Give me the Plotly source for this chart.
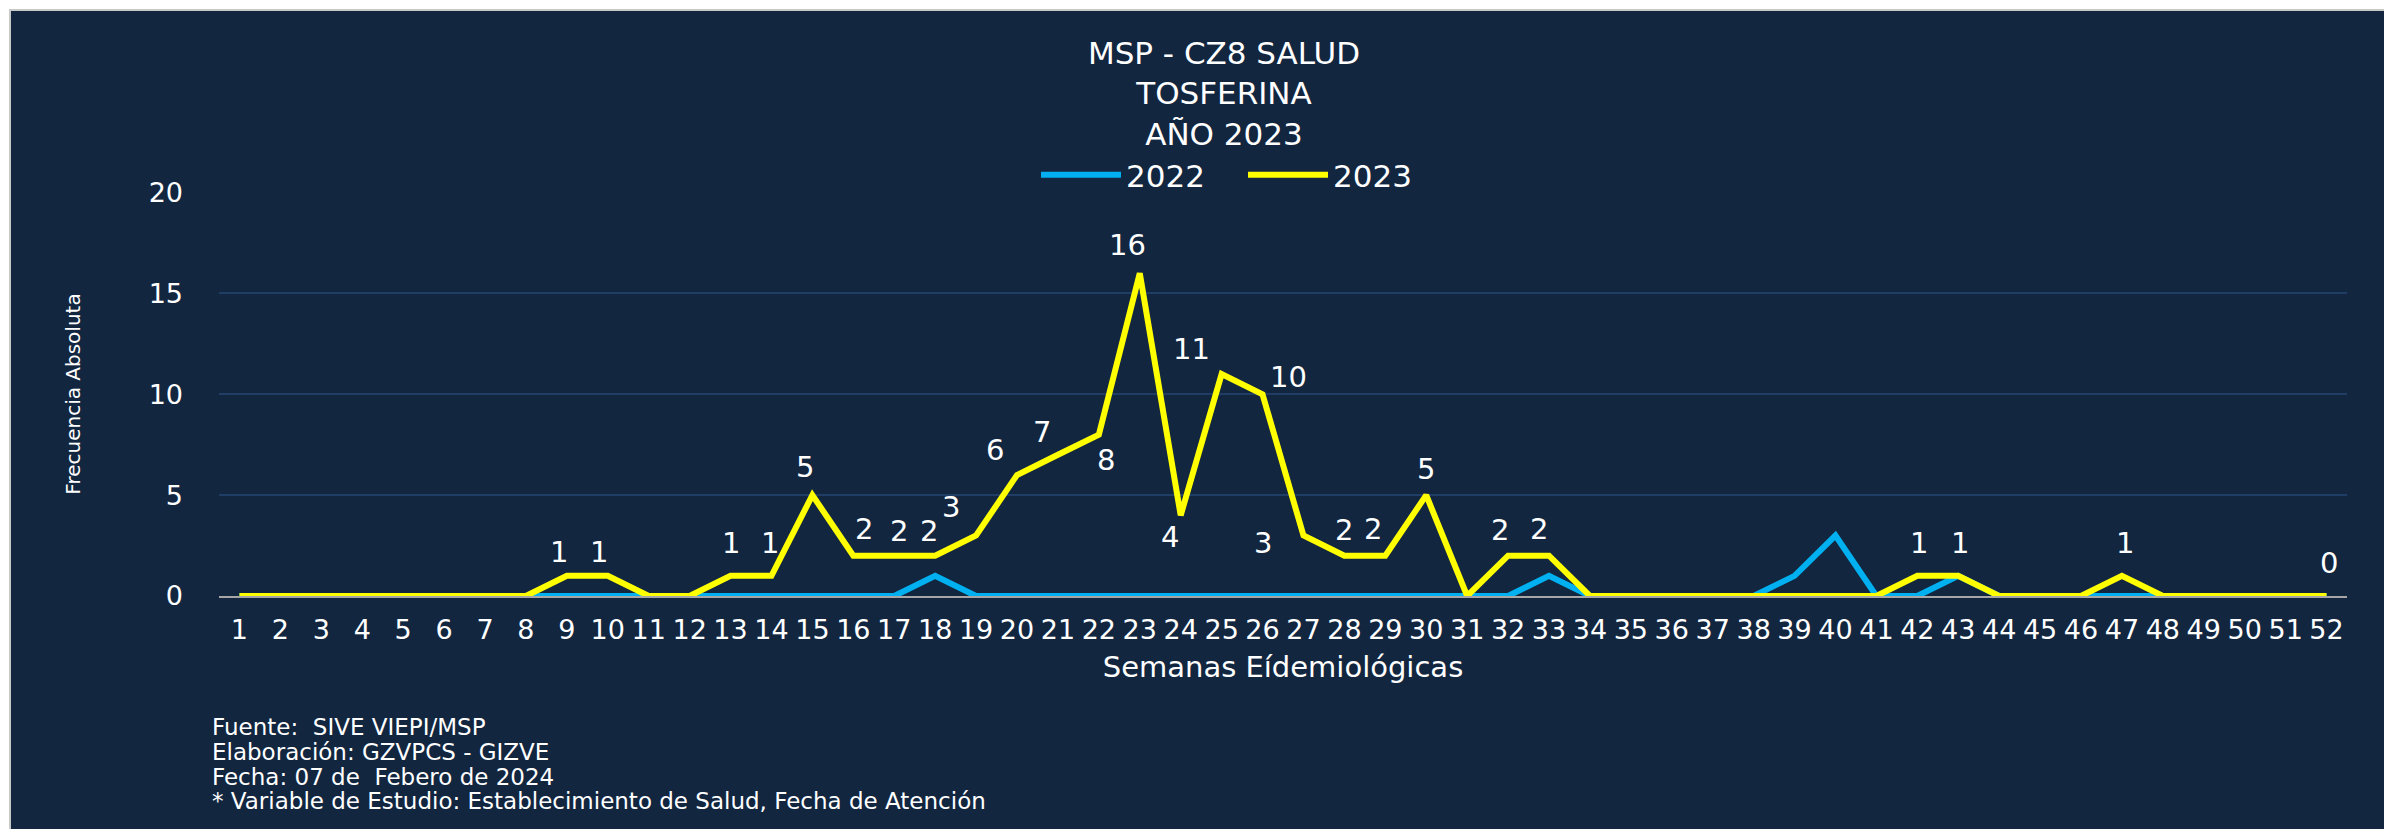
import plotly.graph_objects as go

# ---------------- data ----------------
weeks = list(range(1, 53))
week_labels = [str(w) for w in weeks]

cases_2022 = [0, 0, 0, 0, 0, 0, 0, 0, 0, 0,
              0, 0, 0, 0, 0, 0, 0, 1, 0, 0,
              0, 0, 0, 0, 0, 0, 0, 0, 0, 0,
              0, 0, 1, 0, 0, 0, 0, 0, 1, 3,
              0, 0, 1, 0, 0, 0, 0, 0, 0, 0,
              0, 0]
cases_2023 = [0, 0, 0, 0, 0, 0, 0, 0, 1, 1,
              0, 0, 1, 1, 5, 2, 2, 2, 3, 6,
              7, 8, 16, 4, 11, 10, 3, 2, 2, 5,
              0, 2, 2, 0, 0, 0, 0, 0, 0, 0,
              0, 1, 1, 0, 0, 0, 1, 0, 0, 0,
              0, 0]

y_ticks = [0, 5, 10, 15, 20]

title_lines = ["MSP - CZ8 SALUD", "TOSFERINA", "AÑO 2023"]
footnote_lines = [
    "Fuente:  SIVE VIEPI/MSP",
    "Elaboración: GZVPCS - GIZVE",
    "Fecha: 07 de  Febero de 2024",
    "* Variable de Estudio: Establecimiento de Salud, Fecha de Atención",
]

# data-label placement (pixel offsets from the point) for labelled weeks of 2023
label_offsets = {
    9: (-8, 24), 10: (-9, 24), 13: (0, 33), 14: (-1, 33), 15: (-7, 28),
    16: (11, 27), 17: (5, 25), 18: (-6, 25), 19: (-25, 28), 20: (-22, 25),
    21: (-16, 23), 22: (7, -25), 23: (-12, 28), 24: (-11, -22), 25: (-30, 25),
    26: (26, 17), 27: (-40, -8), 28: (0, 26), 29: (-12, 27), 30: (0, 26),
    32: (-8, 26), 33: (-10, 27), 42: (2, 33), 43: (2, 33), 47: (3, 33),
    52: (2, 33),
}

# ---------------- layout geometry ----------------
W, H = 2384, 829
ML, MR, MT, MB = 219, 37, 192, 233
PW, PH = W - ML - MR, H - MT - MB

def px2x(px):
    return (px - ML) / PW

def px2y(py):
    return 1 - (py - MT) / PH

NAVY = "#12263F"
FONT = "DejaVu Sans"

fig = go.Figure()
fig.add_trace(go.Scatter(
    x=weeks, y=cases_2022, name="2022", mode="lines",
    line=dict(color="#00B0F0", width=6), cliponaxis=False,
))
fig.add_trace(go.Scatter(
    x=weeks, y=cases_2023, name="2023", mode="lines",
    line=dict(color="#FFFF00", width=6), cliponaxis=False,
))

annotations = []
for w, (dx, dy) in label_offsets.items():
    v = cases_2023[weeks.index(w)]
    annotations.append(dict(
        x=w, y=v, xref="x", yref="y", text=str(v), showarrow=False,
        xshift=dx, yshift=dy, font=dict(family=FONT, size=29, color="#FFFFFF"),
    ))

foot_y = [727, 752, 777, 801]
for line, yc in zip(footnote_lines, foot_y):
    annotations.append(dict(
        x=px2x(210), y=px2y(yc), xref="paper", yref="paper",
        xanchor="left", yanchor="middle", align="left", showarrow=False,
        text=line, font=dict(family=FONT, size=23, color="#FFFFFF"),
    ))

shapes = [
    dict(type="rect", xref="paper", yref="paper",
         x0=px2x(10), x1=px2x(W + 5), y0=px2y(10), y1=px2y(H + 5),
         fillcolor=NAVY, line=dict(color="#C8C8C8", width=2), layer="below"),
]

fig.update_layout(
    width=W, height=H,
    margin=dict(l=ML, r=MR, t=MT, b=MB, pad=0),
    paper_bgcolor="#FFFFFF",
    plot_bgcolor=NAVY,
    font=dict(family=FONT, color="#FFFFFF"),
    title=dict(
        text="<br>".join(title_lines),
        x=1224 / W, xref="container", xanchor="center",
        y=1 - 64 / H, yref="container", yanchor="middle",
        font=dict(family=FONT, size=31, color="#FFFFFF"),
    ),
    showlegend=True,
    legend=dict(
        orientation="h", x=px2x(1036), y=px2y(175), xanchor="left", yanchor="middle",
        font=dict(family=FONT, size=31, color="#FFFFFF"),
        bgcolor="rgba(0,0,0,0)", itemwidth=80, entrywidth=112, entrywidthmode="pixels",
        traceorder="normal",
    ),
    xaxis=dict(
        range=[0.5, 52.5], tickmode="array", tickvals=weeks, ticktext=week_labels,
        showgrid=False, zeroline=False, showline=True, linecolor="#A6A6A6", linewidth=2,
        ticks="", ticklabelstandoff=9,
        tickfont=dict(family=FONT, size=27, color="#FFFFFF"),
        title=dict(text="Semanas Eídemiológicas", standoff=12,
                   font=dict(family=FONT, size=29, color="#FFFFFF")),
    ),
    yaxis=dict(
        range=[0, 20.03], tickmode="array", tickvals=y_ticks,
        showgrid=True, gridcolor="#203D66", gridwidth=2, zeroline=False,
        showline=False, ticks="", ticklabelstandoff=35,
        tickfont=dict(family=FONT, size=27, color="#FFFFFF"),
        title=dict(text="Frecuencia Absoluta", standoff=62,
                   font=dict(family=FONT, size=20, color="#FFFFFF")),
    ),
    annotations=annotations,
    shapes=shapes,
)

fig.write_html("out.html", config={"displayModeBar": False},
               post_script="document.body.style.margin='0';")
